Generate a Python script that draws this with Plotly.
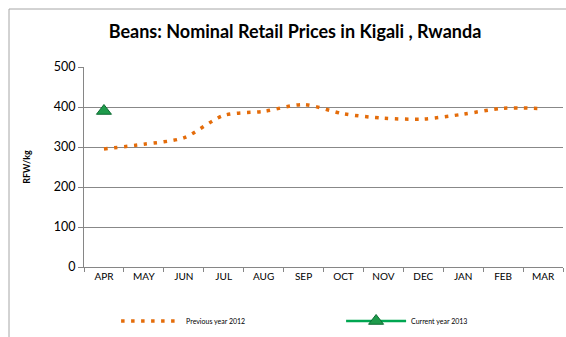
import plotly.graph_objects as go

# Monthly bean retail prices in Kigali (RWF/kg)
months = ["APR", "MAY", "JUN", "JUL", "AUG", "SEP", "OCT", "NOV", "DEC", "JAN", "FEB", "MAR"]
prev_year_2012 = [295, 307, 323, 379, 389, 406, 383, 372, 370, 382, 397, 396]
curr_months = ["APR"]
curr_year_2013 = [390]
y_ticks = [0, 100, 200, 300, 400, 500]

FONT = "Lato"
ORANGE = "#E46C0A"
GREEN = "#00A651"

fig = go.Figure()
fig.add_trace(go.Scatter(
    x=months, y=prev_year_2012, mode="lines", name="Previous year 2012",
    line=dict(color=ORANGE, width=3.5, dash="3.5px,6.5px", shape="spline", smoothing=0.8),
))
fig.add_trace(go.Scatter(
    x=curr_months, y=curr_year_2013, mode="lines+markers", name="Current year 2013",
    line=dict(color=GREEN, width=2.5),
    marker=dict(symbol="triangle-up", size=13, color="#1E9B4B",
                line=dict(color="#0E6B33", width=1)),
))

fig.update_layout(
    width=566, height=337,
    margin=dict(l=84, r=3, t=67, b=70, autoexpand=False),
    paper_bgcolor="white", plot_bgcolor="white",
    font=dict(family=FONT, color="#000000"),
    title=dict(text="<b>Beans: Nominal Retail Prices in Kigali , Rwanda</b>",
               x=295 / 566, xref="container", xanchor="center", y=1 - 32 / 337, yanchor="middle",
               font=dict(size=18, family=FONT)),
    showlegend=True,
    legend=dict(orientation="h", x=0.067, xanchor="left", y=-0.27, yanchor="middle",
                font=dict(size=7, family=FONT), itemwidth=60, entrywidth=150,
                entrywidthmode="pixels", bgcolor="rgba(0,0,0,0)"),
    shapes=[dict(type="rect", xref="paper", yref="paper",
                 x0=(9 - 84) / 479, x1=1.2, y0=-0.6, y1=(267 - 9) / 200,
                 line=dict(color="#A6A6A6", width=1), fillcolor="rgba(0,0,0,0)",
                 layer="below")],
)

fig.update_xaxes(
    type="category", categoryorder="array", categoryarray=months,
    range=[-0.5, 11.5], showgrid=False,
    showline=True, linecolor="#868686", linewidth=1,
    ticks="outside", ticklen=4, tickcolor="#868686", tickson="boundaries",
    tickfont=dict(size=10, family=FONT), fixedrange=True,
)
fig.update_yaxes(
    range=[0, 500], tickvals=y_ticks, showgrid=True, gridcolor="#888888", gridwidth=1,
    showline=True, linecolor="#868686", linewidth=1, zeroline=False,
    ticks="outside", ticklen=5, tickcolor="#868686",
    tickfont=dict(size=12.5, family=FONT),
    title=dict(text="<b>RFW/kg</b>", font=dict(size=9, family=FONT), standoff=21),
    fixedrange=True,
)

fig.write_html("out.html")
